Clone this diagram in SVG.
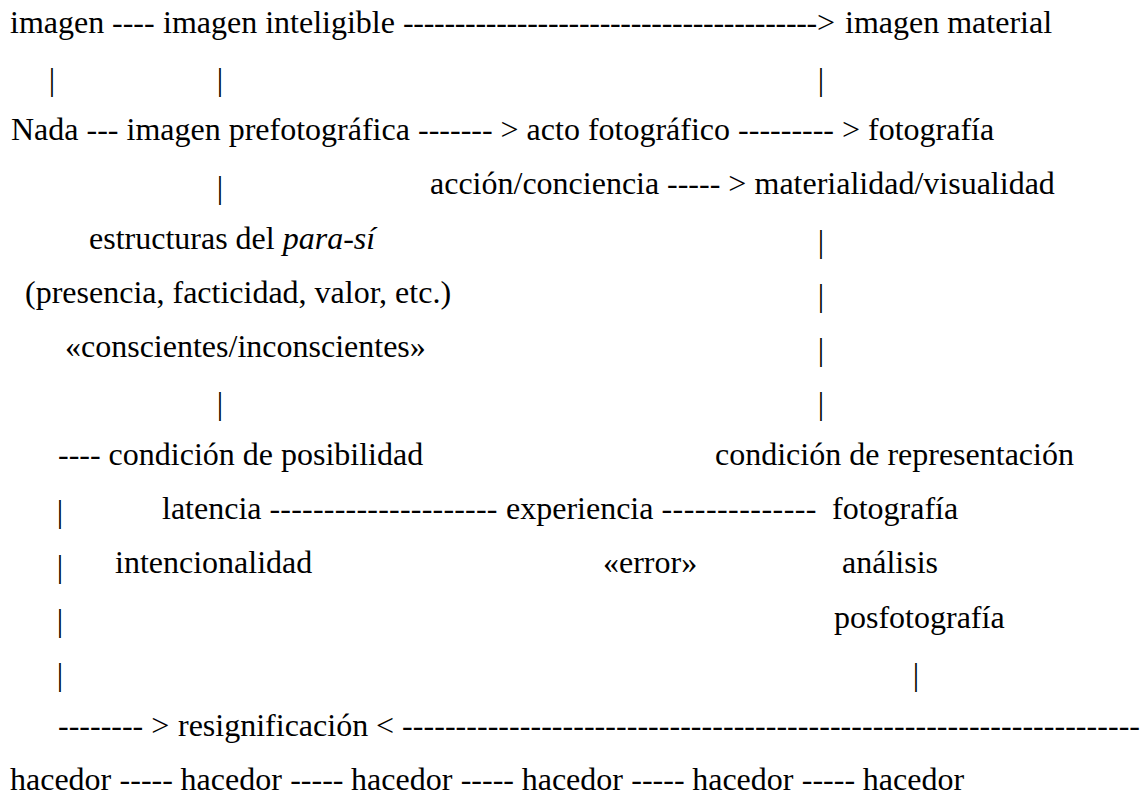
<svg xmlns="http://www.w3.org/2000/svg" width="1140" height="811" viewBox="0 0 1140 811" font-family="'Liberation Serif', 'Times New Roman', Tinos, serif" font-size="32">
<style>
text{font-family:'Liberation Serif','Times New Roman',Tinos,serif;font-size:32px;fill:#000}
.p{text-anchor:middle}
.i{font-style:italic}
</style>
<rect x="0" y="0" width="1140" height="811" fill="#fff"/>
<g id="nodes">
<g id="n-imagen"><text x="10" y="32.5">imagen</text></g>
<g id="n-imagen-inteligible"><text x="163" y="32.5">imagen inteligible</text></g>
<g id="n-imagen-material"><text x="845" y="32.5">imagen material</text></g>
<g id="n-nada"><text x="11" y="140.3">Nada</text></g>
<g id="n-imagen-prefotografica"><text x="126.5" y="140.3">imagen prefotográfica</text></g>
<g id="n-acto-fotografico"><text x="526.6" y="140.3">acto fotográfico</text></g>
<g id="n-fotografia-1"><text x="868" y="140.3">fotografía</text></g>
<g id="n-accion-conciencia"><text x="430" y="194.4">acción/conciencia</text></g>
<g id="n-materialidad"><text x="754.5" y="194.4">materialidad/visualidad</text></g>
<g id="n-estructuras"><text x="89" y="248.6">estructuras del <tspan class="i">para-sí</tspan></text>
<text x="25" y="302.7">(presencia, facticidad, valor, etc.)</text>
<text x="65" y="356.8">«conscientes/inconscientes»</text></g>
<g id="n-condicion-posibilidad"><text x="108.6" y="465.1">condición de posibilidad</text></g>
<g id="n-condicion-representacion"><text x="715" y="465.1">condición de representación</text></g>
<g id="n-latencia"><text x="162" y="519.3">latencia</text>
<text x="115" y="573.4">intencionalidad</text></g>
<g id="n-experiencia"><text x="506" y="519.3">experiencia</text>
<text x="603" y="573.4">«error»</text></g>
<g id="n-fotografia-2"><text x="832" y="519.3">fotografía</text>
<text x="842" y="573.4">análisis</text>
<text x="834" y="627.5">posfotografía</text></g>
<g id="n-resignificacion"><text x="178" y="735.8">resignificación</text></g>
<g id="n-hacedor-1"><text x="10" y="790">hacedor</text></g>
<g id="n-hacedor-2"><text x="180.6" y="790">hacedor</text></g>
<g id="n-hacedor-3"><text x="351.1" y="790">hacedor</text></g>
<g id="n-hacedor-4"><text x="521.7" y="790">hacedor</text></g>
<g id="n-hacedor-5"><text x="692.2" y="790">hacedor</text></g>
<g id="n-hacedor-6"><text x="862.8" y="790">hacedor</text></g>
</g>
<g id="connectors">
<text x="112" y="32.5">----</text>
<text x="403" y="32.5" textLength="432" lengthAdjust="spacing">----------------------------------------&gt;</text>
<text class="p" x="52" y="89.5">|</text>
<text class="p" x="220" y="89.5">|</text>
<text class="p" x="821" y="89.5">|</text>
<text x="86.5" y="140.3">---</text>
<text x="418" y="140.3">------- &gt;</text>
<text x="738.1" y="140.3">--------- &gt;</text>
<text class="p" x="220" y="197.5">|</text>
<text x="667" y="194.4">----- &gt;</text>
<text class="p" x="821" y="251.7">|</text>
<text class="p" x="821" y="305.8">|</text>
<text class="p" x="821" y="359.9">|</text>
<text class="p" x="220" y="414.1">|</text>
<text class="p" x="821" y="414.1">|</text>
<text x="58" y="465.1">----</text>
<text class="p" x="60" y="522.4">|</text>
<text x="269.5" y="519.3" textLength="228" lengthAdjust="spacing">---------------------</text>
<text x="661.5" y="519.3" textLength="155" lengthAdjust="spacing">--------------</text>
<text class="p" x="60" y="576.5">|</text>
<text class="p" x="60" y="630.6">|</text>
<text class="p" x="60" y="684.8">|</text>
<text class="p" x="916" y="684.8">|</text>
<text x="58" y="735.8">-------- &gt;</text>
<text x="376" y="735.8" textLength="764" lengthAdjust="spacing">&lt; ---------------------------------------------------------------------</text>
<text x="119.6" y="790">-----</text>
<text x="290.2" y="790">-----</text>
<text x="460.7" y="790">-----</text>
<text x="631.3" y="790">-----</text>
<text x="801.8" y="790">-----</text>
</g>
</svg>
